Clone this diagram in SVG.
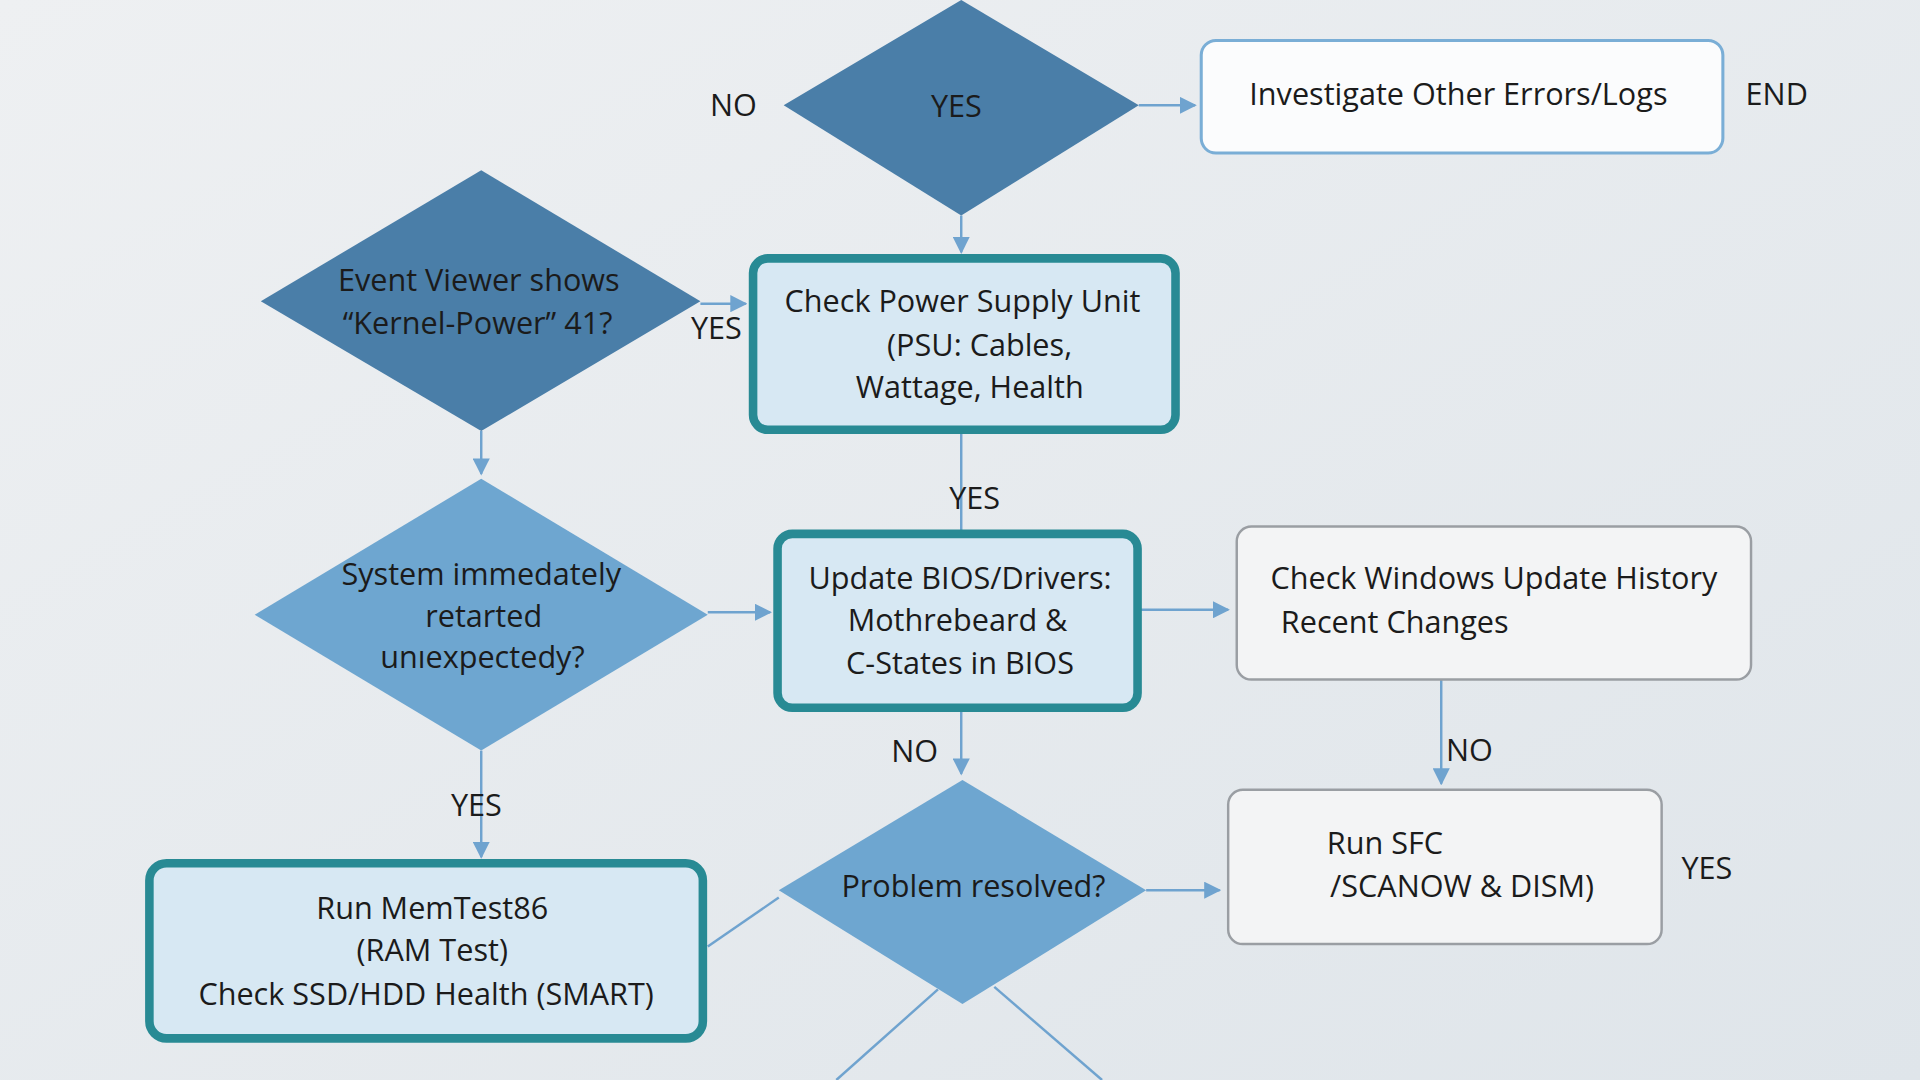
<svg xmlns="http://www.w3.org/2000/svg" width="1920" height="1080" viewBox="0 0 1920 1080">
<defs>
<linearGradient id="bg" x1="0" y1="0" x2="1" y2="1"><stop offset="0" stop-color="#eef0f2"/><stop offset="1" stop-color="#dfe5ea"/></linearGradient>
<marker id="ah" viewBox="0 0 10 10" refX="9" refY="5" markerWidth="7" markerHeight="7" orient="auto"><path d="M0,0 L10,5 L0,10 z" fill="#6fa3cf"/></marker>
<style>
text{font-family:"Open Sans","Liberation Sans",sans-serif;font-size:25px;fill:#1b1b1b;text-anchor:middle;dominant-baseline:middle}
.c{stroke:#6fa3cf;stroke-width:2;fill:none}
.dark{fill:#4a7ea8}.mid{fill:#6ea6d0}
.teal{fill:#d7e8f3;stroke:#288a94;stroke-width:7}
.lb{fill:#fbfcfd;stroke:#7aaed6;stroke-width:2.5}
.gr{fill:#f3f4f5;stroke:#9a9ea3;stroke-width:2}
</style>
</defs>
<rect width="1920" height="1080" fill="url(#bg)"/>
<g transform="scale(1.2245)">
<g id="connectors">
<line class="c" x1="930" y1="86" x2="976" y2="86" marker-end="url(#ah)"/>
<line class="c" x1="785" y1="176" x2="785" y2="206" marker-end="url(#ah)"/>
<line class="c" x1="572" y1="248" x2="609" y2="248" marker-end="url(#ah)"/>
<line class="c" x1="785" y1="351" x2="785" y2="435"/>
<line class="c" x1="393" y1="352" x2="393" y2="387" marker-end="url(#ah)"/>
<line class="c" x1="578" y1="500" x2="629" y2="500" marker-end="url(#ah)"/>
<line class="c" x1="929" y1="498" x2="1003" y2="498" marker-end="url(#ah)"/>
<line class="c" x1="1177" y1="555" x2="1177" y2="640" marker-end="url(#ah)"/>
<line class="c" x1="785" y1="578" x2="785" y2="632" marker-end="url(#ah)"/>
<line class="c" x1="936" y1="727" x2="996" y2="727" marker-end="url(#ah)"/>
<line class="c" x1="393" y1="613" x2="393" y2="700" marker-end="url(#ah)"/>
<line class="c" x1="636" y1="733" x2="578" y2="773"/>
<line class="c" x1="766" y1="808" x2="683" y2="882"/>
<line class="c" x1="812" y1="806" x2="900" y2="882"/>
<text x="599" y="88">NO</text>
<text x="1451" y="79">END</text>
<text x="585" y="270">YES</text>
<text x="796" y="409">YES</text>
<text x="1200" y="615">NO</text>
<text x="747" y="616">NO</text>
<text x="1394" y="711">YES</text>
<text x="389" y="660">YES</text>
</g>
<g id="d_top"><polygon class="dark" points="785,0 930,86 785,176 640,86"/><text x="781" y="89">YES</text></g>
<g id="b_investigate"><rect class="lb" x="981" y="33" width="426" height="92" rx="12"/><text x="1191" y="79">Investigate Other Errors/Logs</text></g>
<g id="d_event"><polygon class="dark" points="393,139 572,246 393,352 213,246" fill="#3f74a0"/><text x="391" y="231">Event Viewer shows</text><text x="390" y="266">“Kernel-Power” 41?</text></g>
<g id="b_psu"><rect class="teal" x="615" y="211" width="345" height="140" rx="12"/><text x="786" y="248">Check Power Supply Unit</text><text x="800" y="284">(PSU: Cables,</text><text x="792" y="318">Wattage, Health</text></g>
<g id="d_system"><polygon class="mid" points="393,391 578,502 393,613 208,502"/><text x="393" y="471">System immedately</text><text x="395" y="505">retarted</text><text x="394" y="539">unıexpectedy?</text></g>
<g id="b_bios"><rect class="teal" x="635" y="436" width="294" height="142" rx="12"/><text x="784" y="474">Update BIOS/Drivers:</text><text x="782" y="509">Mothrebeard &amp;</text><text x="784" y="544">C-States in BIOS</text></g>
<g id="b_winupdate"><rect class="gr" x="1010" y="430" width="420" height="125" rx="12"/><text x="1220" y="474">Check Windows Update History</text><text x="1046" y="510" style="text-anchor:start">Recent Changes</text></g>
<g id="d_resolved"><polygon class="mid" points="786,637 936,727 786,820 636,727"/><text x="795" y="726">Problem resolved?</text></g>
<g id="b_sfc"><rect class="gr" x="1003" y="645" width="354" height="126" rx="12"/><text x="1131" y="691">Run SFC</text><text x="1194" y="726">/SCANOW &amp; DISM)</text></g>
<g id="b_memtest"><rect class="teal" x="122" y="705" width="452" height="143" rx="14"/><text x="353" y="744">Run MemTest86</text><text x="353" y="778">(RAM Test)</text><text x="348" y="814">Check SSD/HDD Health (SMART)</text></g>
</g>
</svg>
